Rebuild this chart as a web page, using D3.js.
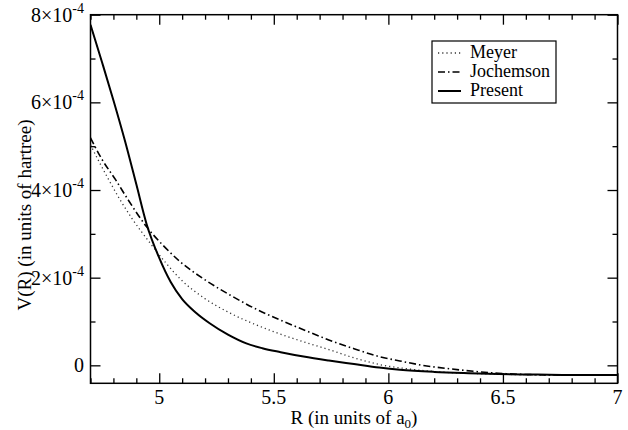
<!DOCTYPE html>
<html><head><meta charset="utf-8">
<script src="https://cdn.jsdelivr.net/npm/d3@7"></script>
<style>body{margin:0;background:#fff}svg{display:block}text{font-family:"Liberation Serif","Times New Roman",serif;fill:#000}</style>
</head><body><svg id="c" width="628" height="430"></svg>
<script>
// Data (R in units of a0, V in hartree)
const presentR = [4.70, 4.75, 4.80, 4.85, 4.90, 4.945, 5.00, 5.05, 5.10, 5.16, 5.22, 5.30, 5.38, 5.45, 5.53, 5.63, 5.74, 5.85, 5.96, 6.05, 6.20, 6.35, 6.48, 6.65, 6.80, 7.00];
const presentV = [7.77e-4, 6.92e-4, 6.05e-4, 5.13e-4, 4.13e-4, 3.22e-4, 2.45e-4, 1.90e-4, 1.51e-4, 1.20e-4, 0.96e-4, 0.70e-4, 0.50e-4, 0.39e-4, 0.30e-4, 0.20e-4, 0.11e-4, 0.03e-4, -0.05e-4, -0.10e-4, -0.15e-4, -0.18e-4, -0.20e-4, -0.21e-4, -0.22e-4, -0.22e-4];
const meyerR = [4.70, 4.74, 4.78, 4.83, 4.88, 4.96, 5.03, 5.09, 5.20, 5.31, 5.42, 5.53, 5.64, 5.74, 5.85, 5.96, 6.10, 6.25, 6.40, 6.55, 6.75, 7.00];
const meyerV = [5.03e-4, 4.62e-4, 4.23e-4, 3.77e-4, 3.36e-4, 2.79e-4, 2.33e-4, 1.98e-4, 1.52e-4, 1.19e-4, 0.93e-4, 0.71e-4, 0.52e-4, 0.36e-4, 0.17e-4, 0.02e-4, -0.09e-4, -0.16e-4, -0.19e-4, -0.21e-4, -0.22e-4, -0.22e-4];
const jochemsonR = [4.70, 4.75, 4.81, 4.865, 4.945, 5.02, 5.09, 5.20, 5.31, 5.42, 5.53, 5.64, 5.74, 5.85, 5.96, 6.05, 6.15, 6.27, 6.38, 6.48, 6.60, 6.80, 7.00];
const jochemsonV = [5.19e-4, 4.70e-4, 4.23e-4, 3.77e-4, 3.16e-4, 2.72e-4, 2.37e-4, 1.95e-4, 1.60e-4, 1.29e-4, 1.03e-4, 0.79e-4, 0.58e-4, 0.38e-4, 0.20e-4, 0.10e-4, 0.00e-4, -0.08e-4, -0.14e-4, -0.18e-4, -0.21e-4, -0.22e-4, -0.22e-4];
const xMajorTicks = [5, 5.5, 6, 6.5, 7];
const yMajorTicks = [0, 2e-4, 4e-4, 6e-4, 8e-4];
const yTickMantissa = ["0", "2", "4", "6", "8"];
const legendLabels = ["Meyer", "Jochemson", "Present"];

const svg = d3.select("#c");
const L = 90.5, R = 617.5, T = 14.7, B = 383.3;
const x = d3.scaleLinear().domain([4.7, 7]).range([L, R]);
const y = d3.scaleLinear().domain([-0.41e-4, 8e-4]).range([B, T]);

const xMinor = d3.range(47, 71).map(d => d / 10).filter(d => !xMajorTicks.some(m => Math.abs(m - d) < 1e-9));
const yMinor = [1e-4, 3e-4, 5e-4, 7e-4];

const g = svg.append("g");
function ticks(axisGen, tr) {
  const a = g.append("g").attr("transform", tr).call(axisGen);
  a.select(".domain").remove();
  a.selectAll("line").attr("stroke", "#000").attr("stroke-width", 1.3);
  a.selectAll("text").remove();
  return a;
}
ticks(d3.axisTop(x).tickValues(xMajorTicks).tickSize(10), `translate(0,${B})`);
ticks(d3.axisTop(x).tickValues(xMinor).tickSize(5), `translate(0,${B})`);
ticks(d3.axisBottom(x).tickValues(xMajorTicks).tickSize(10), `translate(0,${T})`);
ticks(d3.axisBottom(x).tickValues(xMinor).tickSize(5), `translate(0,${T})`);
ticks(d3.axisRight(y).tickValues(yMajorTicks).tickSize(10), `translate(${L},0)`);
ticks(d3.axisRight(y).tickValues(yMinor).tickSize(5), `translate(${L},0)`);
ticks(d3.axisLeft(y).tickValues(yMajorTicks).tickSize(10), `translate(${R},0)`);
ticks(d3.axisLeft(y).tickValues(yMinor).tickSize(5), `translate(${R},0)`);

g.append("rect").attr("x", L).attr("y", T).attr("width", R - L).attr("height", B - T)
  .attr("fill", "none").attr("stroke", "#000").attr("stroke-width", 1.5);

g.selectAll(".xl").data(xMajorTicks).join("text")
  .attr("x", d => x(d)).attr("y", 404).attr("text-anchor", "middle")
  .attr("font-size", 20).text(d => d3.format("")(d));
yMajorTicks.forEach((v, i) => {
  const t = g.append("text").attr("x", 84).attr("y", y(v) + 7).attr("text-anchor", "end").attr("font-size", 20);
  if (v === 0) { t.text("0"); }
  else {
    t.append("tspan").text(yTickMantissa[i] + "×10");
    t.append("tspan").attr("font-size", 14).attr("dy", -9).text("-4");
  }
});
const xt = g.append("text").attr("x", 354).attr("y", 424).attr("text-anchor", "middle").attr("font-size", 19);
xt.append("tspan").text("R (in units of a");
xt.append("tspan").attr("font-size", 13).attr("dy", 4).text("0");
xt.append("tspan").attr("dy", -4).text(")");
g.append("text").attr("transform", "translate(31,215) rotate(-90)").attr("text-anchor", "middle")
  .attr("font-size", 19).text("V(R) (in units of hartree)");

svg.append("clipPath").attr("id", "pc").append("rect").attr("x", L).attr("y", T).attr("width", R - L).attr("height", B - T);
const line = d3.line().x(d => x(d[0])).y(d => y(d[1])).curve(d3.curveMonotoneX);
const series = [
  {R: meyerR, V: meyerV, dash: "1.2,3", w: 1.3, c: "#333"},
  {R: jochemsonR, V: jochemsonV, dash: "7,3,1.5,3", w: 1.6, c: "#000"},
  {R: presentR, V: presentV, dash: null, w: 2, c: "#000"}
];
const cg = svg.append("g").attr("clip-path", "url(#pc)");
series.forEach(s => {
  cg.append("path").datum(s.R.map((r, i) => [r, s.V[i]])).attr("d", line)
    .attr("fill", "none").attr("stroke", s.c).attr("stroke-width", s.w)
    .attr("stroke-dasharray", s.dash);
});

const lg = svg.append("g");
lg.append("rect").attr("x", 432).attr("y", 41).attr("width", 124).attr("height", 62)
  .attr("fill", "#fff").attr("stroke", "#000").attr("stroke-width", 1.2);
legendLabels.forEach((lab, i) => {
  const yy = 58 + i * 19;
  const s = series[i];
  lg.append("line").attr("x1", 438).attr("x2", 461).attr("y1", yy - 5).attr("y2", yy - 5)
    .attr("stroke", s.c).attr("stroke-width", s.w).attr("stroke-dasharray", s.dash);
  lg.append("text").attr("x", 470).attr("y", yy).attr("font-size", 18).text(lab);
});
</script></body></html>
